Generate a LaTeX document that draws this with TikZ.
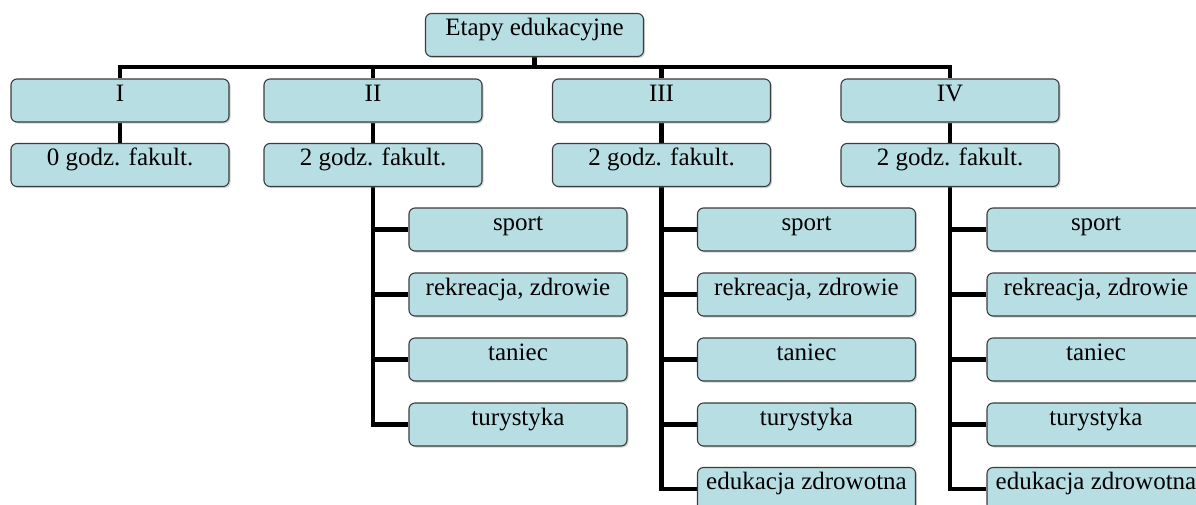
\documentclass[tikz,border=0pt]{standalone}
\usepackage{fontspec}
\setmainfont{Liberation Serif}
\usetikzlibrary{shadows,backgrounds}
\definecolor{boxfill}{RGB}{183,222,227}
\definecolor{boxline}{RGB}{60,60,60}
\tikzset{
  box/.style={draw=boxline, line width=1.1pt, fill=boxfill, rounded corners=6pt,
    minimum width=218pt, minimum height=43pt, inner xsep=1pt, inner ysep=0pt,
    text height=22pt, text depth=21pt, font=\fontsize{25}{29}\selectfont,
    drop shadow={shadow xshift=1.5pt, shadow yshift=-1.5pt, opacity=0.35}},
  conn/.style={draw=black, line width=4.5pt, line join=miter}
}
\begin{document}
\begin{tikzpicture}[x=1pt,y=-1pt]
\useasboundingbox (0,0) rectangle (1196,504);
\clip (0,0) rectangle (1196,504);
\coordinate (bus) at (0,67);
\node[box] (root) at (534.5,35) {Etapy edukacyjne};
\node[box] (l1a) at (120,100.5) {I};
\node[box] (l1b) at (373,100.5) {II};
\node[box] (l1c) at (661.5,100.5) {III};
\node[box] (l1d) at (950,100.5) {IV};
\node[box] (l2a) at (120,165) {0 godz. fakult.};
\node[box] (l2b) at (373,165) {2 godz. fakult.};
\node[box] (l2c) at (661.5,165) {2 godz. fakult.};
\node[box] (l2d) at (950,165) {2 godz. fakult.};
% II children
\node[box] (cb1) at (518,229.5) {sport};
\node[box] (cb2) at (518,294.5) {rekreacja, zdrowie};
\node[box] (cb3) at (518,359.5) {taniec};
\node[box] (cb4) at (518,424.5) {turystyka};
% III children
\node[box] (cc1) at (806.5,229.5) {sport};
\node[box] (cc2) at (806.5,294.5) {rekreacja, zdrowie};
\node[box] (cc3) at (806.5,359.5) {taniec};
\node[box] (cc4) at (806.5,424.5) {turystyka};
\node[box] (cc5) at (806.5,489) {edukacja zdrowotna};
% IV children
\node[box] (cd1) at (1096,229.5) {sport};
\node[box] (cd2) at (1096,294.5) {rekreacja, zdrowie};
\node[box] (cd3) at (1096,359.5) {taniec};
\node[box] (cd4) at (1096,424.5) {turystyka};
\node[box] (cd5) at (1096,489) {edukacja zdrowotna};
\begin{scope}[on background layer]
\draw[conn] (root.south) -- (root.south |- bus);
\draw[conn] (l1a.north) -- (l1a.north |- bus) -- (l1d.north |- bus) -- (l1d.north);
\draw[conn] (l1b.north) -- (l1b.north |- bus);
\draw[conn] (l1c.north) -- (l1c.north |- bus);
\draw[conn] (l1a.south) -- (l2a.north);
\draw[conn] (l1b.south) -- (l2b.north);
\draw[conn] (l1c.south) -- (l2c.north);
\draw[conn] (l1d.south) -- (l2d.north);
% II branch
\draw[conn] (l2b.south) -- (l2b.south |- cb4.west) -- (cb4.west);
\foreach \c in {cb1,cb2,cb3} \draw[conn] (l2b.south |- \c.west) -- (\c.west);
% III branch
\draw[conn] (l2c.south) -- (l2c.south |- cc5.west) -- (cc5.west);
\foreach \c in {cc1,cc2,cc3,cc4} \draw[conn] (l2c.south |- \c.west) -- (\c.west);
% IV branch
\draw[conn] (l2d.south) -- (l2d.south |- cd5.west) -- (cd5.west);
\foreach \c in {cd1,cd2,cd3,cd4} \draw[conn] (l2d.south |- \c.west) -- (\c.west);
\end{scope}
\end{tikzpicture}
\end{document}
